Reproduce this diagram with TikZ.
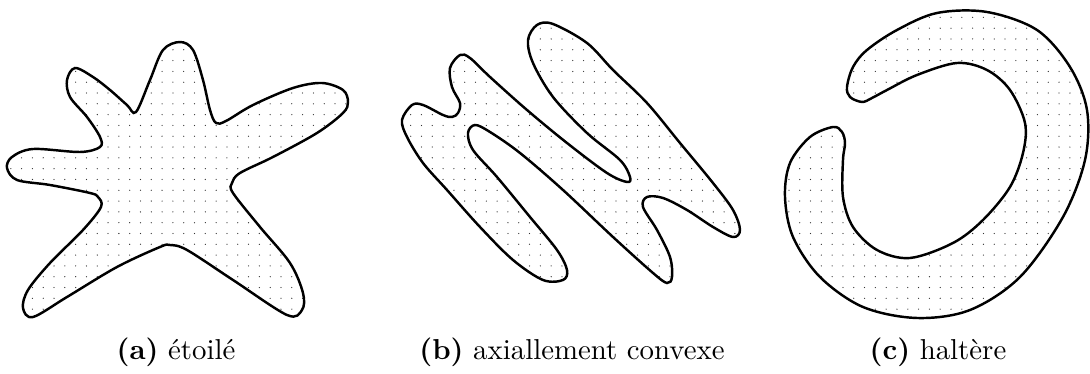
\documentclass[tikz,border=0pt]{standalone}
\usetikzlibrary{patterns}
\pgfdeclarepatternformonly{mydots}{\pgfqpoint{-1pt}{-1pt}}{\pgfqpoint{1pt}{1pt}}{\pgfqpoint{3.75pt}{3.75pt}}{%
  \pgfpathcircle{\pgfqpoint{0pt}{0pt}}{0.22pt}\pgfusepath{fill}}
\tikzset{
  region/.style={draw=black, line width=0.85pt, pattern=mydots, pattern color=black!80},
  caption/.style={anchor=base, inner sep=0pt}
}
\begin{document}
\begin{tikzpicture}[x=0.347pt, y=-0.347pt]
\useasboundingbox (0,0) rectangle (1090,374);
% (a) star-shaped
\draw[region] plot[smooth cycle, tension=0.55] coordinates {
(180,42) (193,50) (203,80) (210,110) (216,123) (226,121)
(253,105) (293,88) (322,83) (343,90) (348,102) (343,113) (317,133)
(273,157) (240,173) (232,183) (233,193)
(260,227) (290,263) (303,293) (302,310) (287,315)
(233,280) (187,250) (170,245) (160,247)
(117,267) (67,297) (33,317) (23,308) (28,290) (50,263) (83,230) (101,207) (98,197)
(90,193) (50,185) (17,180) (7,168) (12,157) (33,149) (80,152) (100,147)
(100,137) (87,117) (70,97) (67,80) (75,68) (93,77) (110,90) (127,105) (136,112)
(150,80) (163,50)};
% (b) axially convex
\draw[region] plot[smooth cycle, tension=0.55] coordinates {
(553,24) (587,43) (613,70) (647,103) (680,143) (713,183) (733,210) (740,230) (733,237)
(713,227) (687,210) (663,198) (647,197) (643,207) (657,230) (670,257) (672,277) (667,283)
(653,273) (613,237) (563,190) (520,153) (490,132) (475,125) (468,133) (473,150)
(497,177) (530,217) (557,250) (567,270) (563,280) (543,280) (513,260)
(480,227) (447,190) (423,163) (407,137) (402,120) (412,105) (423,105) (443,115) (452,117)
(458,113) (460,103) (452,87) (450,68) (460,55) (470,58) (490,77) (527,110) (567,143)
(607,173) (627,182) (630,177) (620,160) (587,133) (553,97) (533,63) (528,40) (537,25)};
% (c) dumbbell
\draw[region] plot[smooth cycle, tension=0.55] coordinates {
(847,87) (850,97) (862,102) (872,98) (887,90) (917,75) (957,63) (987,70) (1010,90) (1025,123)
(1023,153) (1010,187) (983,220) (953,243) (910,258) (877,250) (853,227) (843,197)
(843,160) (845,143) (842,132) (833,127) (810,137) (790,163) (785,197) (793,237)
(820,277) (863,307) (917,318) (970,310) (1020,277) (1063,217) (1085,160) (1087,110)
(1070,67) (1037,30) (987,12) (937,13) (897,30) (867,50) (853,67)};
\node[caption] (capa) at (176,360) {\textbf{(a)} étoilé};
\node[caption] (capb) at (572,360) {\textbf{(b)} axiallement convexe};
\node[caption] (capc) at (938,360) {\textbf{(c)} haltère};
\end{tikzpicture}
\end{document}
